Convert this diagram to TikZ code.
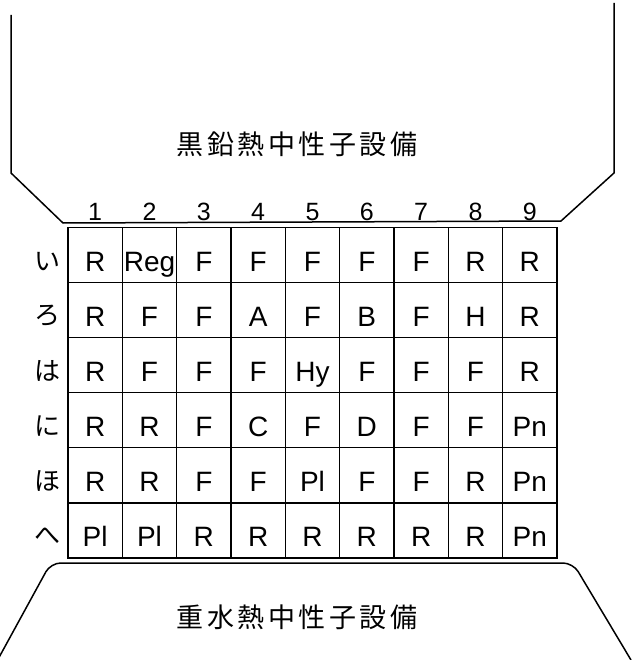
\documentclass[tikz,border=0pt]{standalone}
\usepackage{fontspec}
\setmainfont{Liberation Sans}
\newfontfamily\cjk{Noto Sans CJK JP}
\newfontfamily\cjktitle[LetterSpace=13]{Noto Sans CJK JP}
\begin{document}
\begin{tikzpicture}[x=1pt,y=-1pt,
  outline/.style={line width=1.5pt, line join=round},
  cellbox/.style={draw, line width=1.2pt, minimum width=54.33pt, minimum height=55.08pt, inner sep=0pt, outer sep=0pt},
  celltext/.style={anchor=base, font=\fontsize{28}{28}\selectfont, inner sep=0pt},
  colnum/.style={anchor=base, font=\fontsize{25}{25}\selectfont, inner sep=0pt},
  rowlab/.style={font=\cjk\fontsize{26}{26}\selectfont, inner sep=0pt},
  titletext/.style={font=\cjktitle\fontsize{27}{27}\selectfont, inner sep=0pt}]
\useasboundingbox (0,0) rectangle (631,660);

% upper facility outline
\draw[outline] (11,15) -- (11,173) -- (63,223) -- (561,221) -- (614,173) -- (614,3);
% lower facility outline
\draw[outline, rounded corners=10pt] (-2.4,660) -- (50.7,563) -- (573,563) -- (631,660);

\node[titletext] (toptitle) at (297,144) {黒鉛熱中性子設備};
\node[titletext] (bottitle) at (297,617) {重水熱中性子設備};

% column numbers
\foreach \c in {1,...,9}
  \node[colnum] (num-\c) at ({68+(\c-0.5)*54.33},220) {\c};

% grid
\foreach \r/\lab/\items in {
  1/い/{R,Reg,F,F,F,F,F,R,R},
  2/ろ/{R,F,F,A,F,B,F,H,R},
  3/は/{R,F,F,F,Hy,F,F,F,R},
  4/に/{R,R,F,C,F,D,F,F,Pn},
  5/ほ/{R,R,F,F,Pl,F,F,R,Pn},
  6/へ/{Pl,Pl,R,R,R,R,R,R,Pn}}{
  \node[rowlab] (lab-\r) at (47,{227.5+(\r-0.5)*55.08+6}) {\lab};
  \foreach \t [count=\c] in \items {
    \node[cellbox] (cell-\r-\c) at ({68+(\c-0.5)*54.33},{227.5+(\r-0.5)*55.08}) {};
    \node[celltext] (txt-\r-\c) at ([yshift=-16.5pt]cell-\r-\c.center) {\t};
  }
}
\end{tikzpicture}
\end{document}
